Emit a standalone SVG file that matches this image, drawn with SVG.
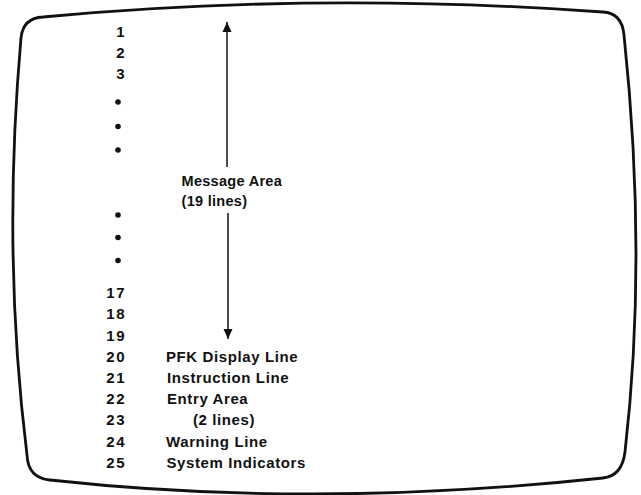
<svg xmlns="http://www.w3.org/2000/svg" width="641" height="495" viewBox="0 0 641 495">
<style>
.t{font-family:"Liberation Sans",Arial,Helvetica,sans-serif;font-weight:bold;font-size:15px;letter-spacing:0.6px;fill:#111}
.n{text-anchor:end;letter-spacing:1.5px}
.m{font-size:14.5px;letter-spacing:0.3px}
.frame{fill:none;stroke:#111;stroke-width:2.8;stroke-linejoin:round}
.conn{fill:none;stroke:#111;stroke-width:1.5}
.dot{fill:#111}
</style>
<defs>
<marker id="ah" viewBox="0 0 10 18" refX="10" refY="9" markerWidth="10" markerHeight="18" markerUnits="userSpaceOnUse" orient="auto">
<path d="M0,4.5 L10,9 L0,13.5 Z" fill="#111"/>
</marker>
</defs>
<rect width="641" height="495" fill="#fff"/>
<g id="screen">
<path class="frame" d="M43,17 Q317,-8.5 603,12 Q622,13 624,35 Q647.5,256.5 625,452 Q622,476 603,478 Q313.5,509 50,480 Q28,478 27,455 Q2,253.5 21,38 Q23,18 43,17 Z"/>
</g>
<g id="line-numbers">
<text class="t n" x="126" y="37">1</text>
<text class="t n" x="126" y="58">2</text>
<text class="t n" x="126" y="79">3</text>
<circle class="dot" cx="118" cy="102" r="2.8"/>
<circle class="dot" cx="118" cy="126.5" r="2.8"/>
<circle class="dot" cx="118" cy="150" r="2.8"/>
<circle class="dot" cx="118" cy="215" r="2.8"/>
<circle class="dot" cx="118" cy="237.5" r="2.8"/>
<circle class="dot" cx="118" cy="260.5" r="2.8"/>
<text class="t n" x="126" y="297.5">17</text>
<text class="t n" x="126" y="319">18</text>
<text class="t n" x="126" y="340.5">19</text>
<text class="t n" x="126" y="361.7">20</text>
<text class="t n" x="126" y="382.5">21</text>
<text class="t n" x="126" y="404">22</text>
<text class="t n" x="126" y="425">23</text>
<text class="t n" x="126" y="446.5">24</text>
<text class="t n" x="126" y="467.5">25</text>
</g>
<g id="message-area">
<text class="t m" x="181.5" y="186">Message Area</text>
<text class="t m" x="181.5" y="205.5">(19 lines)</text>
</g>
<g id="pfk-display-line"><text class="t" x="166" y="361.7">PFK Display Line</text></g>
<g id="instruction-line"><text class="t" x="167" y="382.5">Instruction Line</text></g>
<g id="entry-area">
<text class="t" x="167" y="404">Entry Area</text>
<text class="t" x="193" y="425">(2 lines)</text>
</g>
<g id="warning-line"><text class="t" x="166" y="446.5">Warning Line</text></g>
<g id="system-indicators"><text class="t" x="166.5" y="467.5">System Indicators</text></g>
<g id="connectors">
<line class="conn" x1="227" y1="167" x2="227" y2="22" marker-end="url(#ah)"/>
<line class="conn" x1="228" y1="213" x2="228" y2="339" marker-end="url(#ah)"/>
</g>
</svg>
